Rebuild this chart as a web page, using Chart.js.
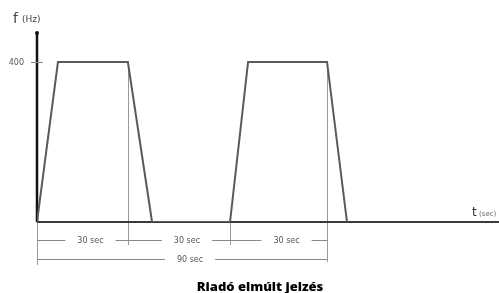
<!DOCTYPE html>
<html>
<head>
<meta charset="utf-8">
<script src="https://cdn.jsdelivr.net/npm/chart.js@4"></script>
<style>
html,body{margin:0;padding:0;background:#fff;}
#wrap{width:499px;height:293px;position:relative;}
</style>
</head>
<body>
<div id="wrap"><canvas id="c" width="499" height="293"></canvas></div>
<script>
// Data (time in seconds, frequency in Hz)
const times = [0, 6.5, 28.2, 35.7, 59.9, 65.5, 90, 96.2];
const freqs = [0, 400, 400, 0, 0, 400, 400, 0];
const markerTimes = [0, 28.2, 59.9, 90];
const spanLabels = ['30 sec', '30 sec', '30 sec'];
const totalLabel = '90 sec';
const yTickValues = [400];
const yTickLabels = ['400'];
const xMax = 138.4;
const yMax = 472.5;
const titleText = 'Riadó elmúlt jelzés';

const points = times.map((t, i) => ({x: t, y: freqs[i]}));

const diagram = {
  id: 'diagram',
  beforeDatasetsDraw(chart) {
    const ctx = chart.ctx;
    const xs = chart.scales.x, ys = chart.scales.y;
    const ca = chart.chartArea;
    const x0 = xs.getPixelForValue(0);
    const y0 = ys.getPixelForValue(0);
    ctx.save();
    // thin vertical guide lines
    ctx.strokeStyle = '#9a9a9a';
    ctx.lineWidth = 1;
    const guideTop = [y0, ys.getPixelForValue(400), y0, ys.getPixelForValue(400)];
    const guideBottom = [265, 245, 245, 262];
    markerTimes.forEach((t, i) => {
      const px = Math.round(xs.getPixelForValue(t)) + 0.5;
      ctx.beginPath();
      ctx.moveTo(px, guideTop[i]);
      ctx.lineTo(px, guideBottom[i]);
      ctx.stroke();
    });
    // x axis line
    ctx.strokeStyle = '#3a3a3a';
    ctx.lineWidth = 2;
    ctx.beginPath();
    ctx.moveTo(x0, y0);
    ctx.lineTo(499, y0);
    ctx.stroke();
    // y axis line
    ctx.strokeStyle = '#111';
    ctx.lineWidth = 2.5;
    ctx.beginPath();
    ctx.moveTo(x0, ca.top);
    ctx.lineTo(x0, y0);
    ctx.stroke();
    ctx.fillStyle = '#111';
    ctx.beginPath();
    ctx.arc(x0, ca.top, 2, 0, Math.PI * 2);
    ctx.fill();
    // y ticks
    ctx.strokeStyle = '#888';
    ctx.lineWidth = 1;
    ctx.font = '8px "DejaVu Sans"';
    ctx.fillStyle = '#555';
    ctx.textAlign = 'right';
    ctx.textBaseline = 'middle';
    yTickValues.forEach((v, i) => {
      const py = Math.round(ys.getPixelForValue(v)) + 0.5;
      ctx.beginPath();
      ctx.moveTo(x0 - 6, py);
      ctx.lineTo(x0 + 6, py);
      ctx.stroke();
      ctx.fillText(yTickLabels[i], x0 - 13, py);
    });
    // axis titles
    ctx.textAlign = 'left';
    ctx.fillStyle = '#444';
    ctx.font = '14px "DejaVu Sans"';
    ctx.fillText('f', 13, 19);
    ctx.font = '9px "DejaVu Sans"';
    ctx.fillText('(Hz)', 22, 20);
    ctx.font = '12px "DejaVu Sans"';
    ctx.fillStyle = '#333';
    ctx.fillText('t', 472, 213);
    ctx.font = '7px "DejaVu Sans"';
    ctx.fillStyle = '#666';
    ctx.fillText('(sec)', 479, 214);
    // dimension lines
    ctx.font = '8px "DejaVu Sans"';
    ctx.textAlign = 'center';
    ctx.fillStyle = '#555';
    ctx.strokeStyle = '#8a8a8a';
    const dimLine = (ta, tb, py, label) => {
      const a = xs.getPixelForValue(ta), b = xs.getPixelForValue(tb);
      const mid = (a + b) / 2 + 8;
      const w = ctx.measureText(label).width / 2 + 12;
      ctx.beginPath();
      ctx.moveTo(a, py); ctx.lineTo(mid - w, py);
      ctx.moveTo(mid + w, py); ctx.lineTo(b, py);
      ctx.stroke();
      ctx.fillText(label, mid, py);
    };
    for (let i = 0; i < spanLabels.length; i++) {
      dimLine(markerTimes[i], markerTimes[i + 1], 240.5, spanLabels[i]);
    }
    dimLine(markerTimes[0], markerTimes[markerTimes.length - 1], 259.5, totalLabel);
    ctx.restore();
  }
};

new Chart(document.getElementById('c'), {
  type: 'scatter',
  data: {
    datasets: [{
      data: points,
      showLine: true,
      borderColor: '#5a5a5a',
      borderWidth: 2,
      pointRadius: 0,
      tension: 0,
      fill: false
    }]
  },
  options: {
    responsive: false,
    animation: false,
    layout: {padding: {left: 37, right: 16, top: 33, bottom: 0}},
    scales: {
      x: {type: 'linear', min: 0, max: xMax, display: false},
      y: {type: 'linear', min: 0, max: yMax, display: false}
    },
    plugins: {
      legend: {display: false},
      tooltip: {enabled: false},
      title: {
        display: true,
        text: titleText,
        position: 'bottom',
        color: '#000',
        font: {family: 'Open Sans', weight: '800', size: 13, lineHeight: 0.9},
        padding: {top: 59.3, bottom: 0}
      }
    }
  },
  plugins: [diagram]
});
</script>
</body>
</html>
